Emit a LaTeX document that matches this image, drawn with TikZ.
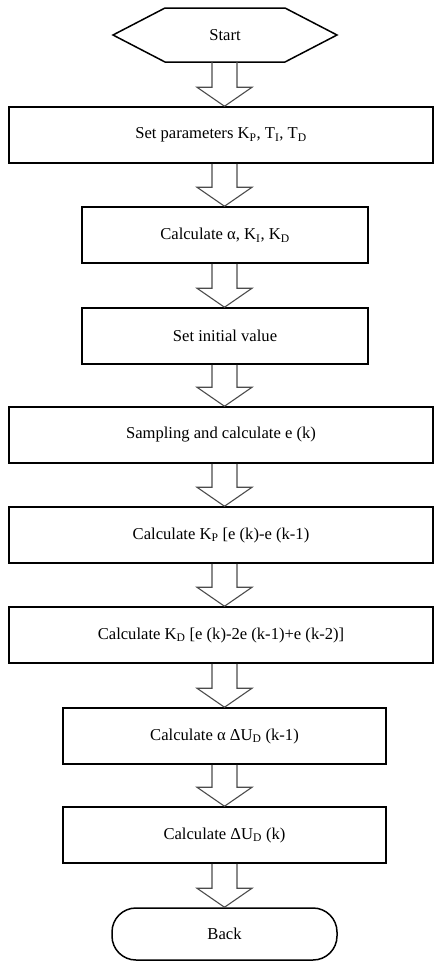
\documentclass[tikz,border=0pt]{standalone}
\usepackage{fontspec}
\setmainfont{Liberation Serif}
\usetikzlibrary{calc}
\tikzset{
  box/.style={draw=black, line width=1.5pt, rectangle, minimum height=56pt, inner sep=0pt, font=\fontsize{16.6}{19}\selectfont},
  wide/.style={box, minimum width=424pt},
  mid/.style={box, minimum width=286pt},
  midb/.style={box, minimum width=323pt},
  term/.style={font=\fontsize{16.6}{19}\selectfont, inner sep=0pt},
  arr/.style={draw=black!70, line width=1.1pt, line join=miter},
}
\newcommand\fatarrow[2]{%
  \draw[arr] ($(ax |- #1.south)+(-12.5,0)$) -- ($(ax |- #2.north)+(-12.5,-19)$)
    -- ($(ax |- #2.north)+(-27.5,-19)$) -- (ax |- #2.north)
    -- ($(ax |- #2.north)+(27.5,-19)$) -- ($(ax |- #2.north)+(12.5,-19)$)
    -- ($(ax |- #1.south)+(12.5,0)$);}
\begin{document}
\begin{tikzpicture}[x=1pt,y=-1pt]
\useasboundingbox[fill=white] (0,0) rectangle (434,962);
\coordinate (ax) at (224.5,0);
% Start hexagon
\node[term, minimum width=224pt, minimum height=54pt] (start) at (225,35) {Start};
\draw[black, line width=1.5pt, line join=miter] (113,35) -- (165,8) -- (285,8) -- (337,35) -- (285,62) -- (165,62) -- cycle;
\node[wide] (b1) at (221,135) {Set parameters K\textsubscript{P}, T\textsubscript{I}, T\textsubscript{D}};
\node[mid]  (b2) at (225,235) {Calculate α, K\textsubscript{I}, K\textsubscript{D}};
\node[mid]  (b3) at (225,336) {Set initial value};
\node[wide] (b4) at (221,435) {Sampling and calculate e (k)};
\node[wide] (b5) at (221,535) {Calculate K\textsubscript{P} [e (k)-e (k-1)};
\node[wide] (b6) at (221,635) {Calculate K\textsubscript{D} [e (k)-2e (k-1)+e (k-2)]};
\node[midb] (b7) at (224.5,736) {Calculate α ΔU\textsubscript{D} (k-1)};
\node[midb] (b8) at (224.5,835) {Calculate ΔU\textsubscript{D} (k)};
\node[box, rounded corners=24pt, minimum width=225pt, minimum height=52pt] (back) at (224.5,934) {Back};
\fatarrow{start}{b1}
\fatarrow{b1}{b2}
\fatarrow{b2}{b3}
\fatarrow{b3}{b4}
\fatarrow{b4}{b5}
\fatarrow{b5}{b6}
\fatarrow{b6}{b7}
\fatarrow{b7}{b8}
\fatarrow{b8}{back}
\end{tikzpicture}
\end{document}
